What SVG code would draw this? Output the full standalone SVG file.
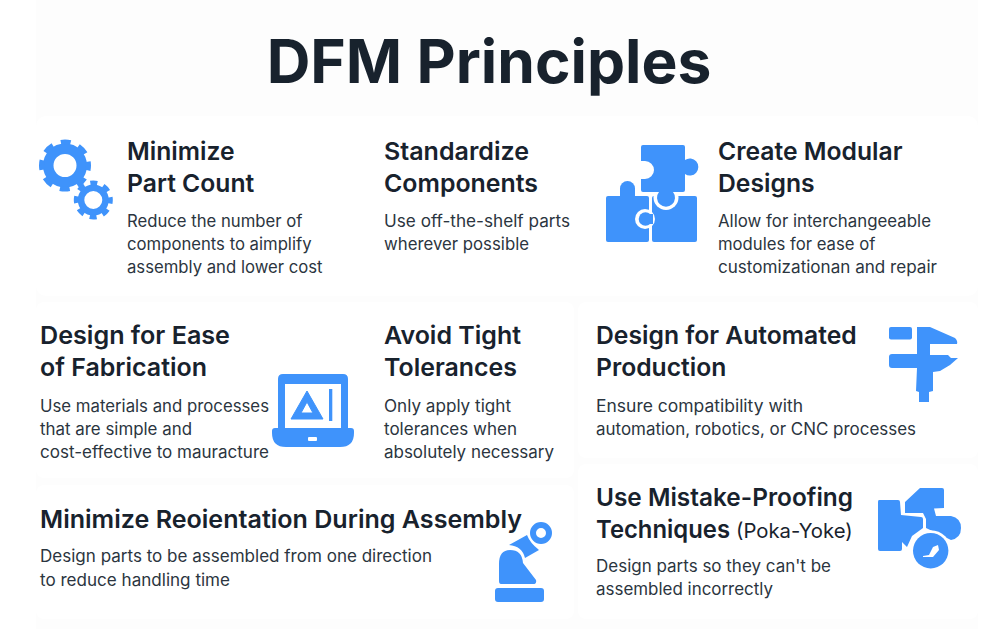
<svg xmlns="http://www.w3.org/2000/svg" width="1000" height="629" viewBox="0 0 1000 629">
<style>
text{font-family:"Inter","Liberation Sans",sans-serif;fill:#18222d}
.h{font-size:24.7px;font-weight:600}
.b{font-size:16.7px;font-weight:400;fill:#2b3540}
.i{fill:#3f93fb}
.w{fill:#fff}
.c{fill:#fff}
.r{fill:none;stroke:#3f93fb}
</style>
<rect width="1000" height="629" fill="#fff"/>
<rect x="36" y="0" width="942" height="629" fill="#fdfdfd"/>
<rect class="c" x="36" y="116" width="942" height="180" rx="10"/>
<rect class="c" x="36" y="302" width="538" height="176" rx="8"/>
<rect class="c" x="36" y="485" width="538" height="134" rx="8"/>
<rect class="c" x="578" y="302" width="400" height="156" rx="8"/>
<rect class="c" x="578" y="464" width="400" height="155" rx="8"/>
<text id="title" x="489" y="83" text-anchor="middle" style="font-size:60.5px;font-weight:700">DFM Principles</text>

<g id="n1">
<circle class="r" cx="65" cy="165.5" r="16.75" stroke-width="10.5"/>
<circle class="r" cx="65" cy="165.5" r="23.5" stroke-width="5" stroke-dasharray="10 8.46" stroke-dashoffset="5"/>
<circle class="r" cx="93.3" cy="200" r="12.25" stroke-width="6.5"/>
<circle class="r" cx="93.3" cy="200" r="17" stroke-width="5" stroke-dasharray="7 6.35" stroke-dashoffset="3.5"/>
<text class="h" x="127" y="160">Minimize</text>
<text class="h" x="127" y="192">Part Count</text>
<text class="b" x="127" y="227">Reduce the number of</text>
<text class="b" x="127" y="250">components to aimplify</text>
<text class="b" x="127" y="273">assembly and lower cost</text>
</g>

<g id="n2">
<text class="h" x="384" y="160" textLength="145" lengthAdjust="spacingAndGlyphs">Standardize</text>
<text class="h" x="384" y="192" textLength="154" lengthAdjust="spacingAndGlyphs">Components</text>
<text class="b" x="384" y="227" textLength="186" lengthAdjust="spacingAndGlyphs">Use off-the-shelf parts</text>
<text class="b" x="384" y="250" textLength="145" lengthAdjust="spacingAndGlyphs">wherever possible</text>
</g>

<g id="n3">
<rect class="i" x="606" y="196" width="43" height="46" rx="2"/>
<circle class="i" cx="627.500" cy="188.500" r="7.500"/>
<rect class="i" x="620" y="188" width="15" height="9"/>
<rect class="i" x="652" y="196" width="45" height="46" rx="2"/>
<circle class="w" cx="645" cy="219" r="10"/>
<rect class="w" x="649" y="209" width="3" height="34"/>
<circle class="i" cx="645.500" cy="219" r="6.800"/>
<rect class="i" x="645" y="214" width="8" height="10"/>
<circle class="w" cx="666" cy="197.500" r="12.500"/>
<rect class="w" x="649" y="190" width="3" height="10"/>
<path class="i" d="M643 145H683Q685 145 685 147V160A8.500 8.500 0 1 1 685 174V190Q685 192 683 192H673A9 9 0 1 1 659 192H643Q641 192 641 190V179H645A9 9 0 0 0 645 161H641V147Q641 145 643 145Z"/>
<text class="h" x="718" y="160">Create Modular</text>
<text class="h" x="718" y="192">Designs</text>
<text class="b" x="718" y="227" textLength="213" lengthAdjust="spacingAndGlyphs">Allow for interchangeeable</text>
<text class="b" x="718" y="250">modules for ease of</text>
<text class="b" x="718" y="273" textLength="219" lengthAdjust="spacingAndGlyphs">customizationan and repair</text>
</g>

<g id="n4">
<text class="h" x="40" y="344" textLength="190" lengthAdjust="spacingAndGlyphs">Design for Ease</text>
<text class="h" x="40" y="376" textLength="167" lengthAdjust="spacingAndGlyphs">of Fabrication</text>
<text class="b" x="40" y="412" textLength="229" lengthAdjust="spacingAndGlyphs">Use materials and processes</text>
<text class="b" x="40" y="435" textLength="152" lengthAdjust="spacingAndGlyphs">that are simple and</text>
<text class="b" x="40" y="458" textLength="229" lengthAdjust="spacingAndGlyphs">cost-effective to mauracture</text>
<path class="i" d="M283 374H343Q348 374 348 379V428H351Q354 428 354 431V433Q354 447 340 447H286Q272 447 272 433V431Q272 428 275 428H278V379Q278 374 283 374Z"/>
<rect class="w" x="285" y="384" width="56" height="44"/>
<rect class="w" x="308" y="437" width="9" height="4" rx="1"/>
<path class="i" fill-rule="evenodd" d="M307 391L323 419H291ZM307 402L301 413H313Z" stroke="#3f93fb" stroke-width="1" stroke-linejoin="round"/>
<rect class="i" x="329" y="389" width="3.300" height="32"/>
</g>

<g id="n5">
<text class="h" x="384" y="344" textLength="137" lengthAdjust="spacingAndGlyphs">Avoid Tight</text>
<text class="h" x="384" y="376" textLength="133" lengthAdjust="spacingAndGlyphs">Tolerances</text>
<text class="b" x="384" y="412" textLength="127" lengthAdjust="spacingAndGlyphs">Only apply tight</text>
<text class="b" x="384" y="435" textLength="133" lengthAdjust="spacingAndGlyphs">tolerances when</text>
<text class="b" x="384" y="458" textLength="170" lengthAdjust="spacingAndGlyphs">absolutely necessary</text>
</g>

<g id="n6">
<text class="h" x="596" y="344">Design for Automated</text>
<text class="h" x="596" y="376">Production</text>
<text class="b" x="596" y="412" textLength="207" lengthAdjust="spacingAndGlyphs">Ensure compatibility with</text>
<text class="b" x="596" y="435" textLength="320" lengthAdjust="spacingAndGlyphs">automation, robotics, or CNC processes</text>
<rect class="i" x="889" y="327" width="23" height="12.500" rx="2"/>
<path class="i" d="M917 327H930L955 338Q958 341 957 344L930 344V355H948L951 358H958L950 365L940 371L933 372V391L929 392V402H919V392L916 391L917 368H892Q889 368 889 365V357Q889 354 892 354H917Z"/>
</g>

<g id="n7">
<text class="h" x="40" y="528" textLength="482" lengthAdjust="spacingAndGlyphs">Minimize Reoientation During Assembly</text>
<text class="b" x="40" y="562" textLength="392" lengthAdjust="spacingAndGlyphs">Design parts to be assembled from one direction</text>
<text class="b" x="40" y="586" textLength="190" lengthAdjust="spacingAndGlyphs">to reduce handling time</text>
<rect class="i" x="495" y="588" width="49" height="14" rx="3"/>
<path class="i" d="M501 584Q499 584 499 581V564Q499 550 510 550Q522 550 523 563L536 580Q537 584 533 584Z"/>
<path class="i" d="M509 545L527 535Q530 543 539 550L525 558Q522 546 509 545Z"/>
<circle class="r" cx="541" cy="533" r="8" stroke-width="6"/>
</g>

<g id="n8">
<text class="h" x="596" y="506" textLength="257" lengthAdjust="spacingAndGlyphs">Use Mistake-Proofing</text>
<text class="h" x="596" y="538" textLength="134" lengthAdjust="spacingAndGlyphs">Techniques</text>
<text x="736" y="538" style="font-size:20.300px;font-weight:400">(Poka-Yoke)</text>
<text class="b" x="596" y="572" textLength="235" lengthAdjust="spacingAndGlyphs">Design parts so they can't be</text>
<text class="b" x="596" y="595" textLength="177" lengthAdjust="spacingAndGlyphs">assembled incorrectly</text>
<path class="i" d="M879 500H898Q900 500 900 502L901 515L921 517Q923 517 923 519V528L912 536L907 547L902 542V549Q902 551 900 551H880Q878 551 878 549V502Q878 500 879 500Z"/>
<path class="i" d="M920 488H942Q944 488 944 490V508L934 508.500L936 516H951Q961 518 961 528Q961 538 951 540L926 528V519L923 513H905V502Z"/>
<circle class="w" cx="930.700" cy="550.700" r="20.500"/>
<circle class="i" cx="930.700" cy="550.700" r="17.700"/>
<path class="w" d="M923 556L929 555L933 547L938 545L939 550L933 557L923 557Z"/>
</g>
</svg>
